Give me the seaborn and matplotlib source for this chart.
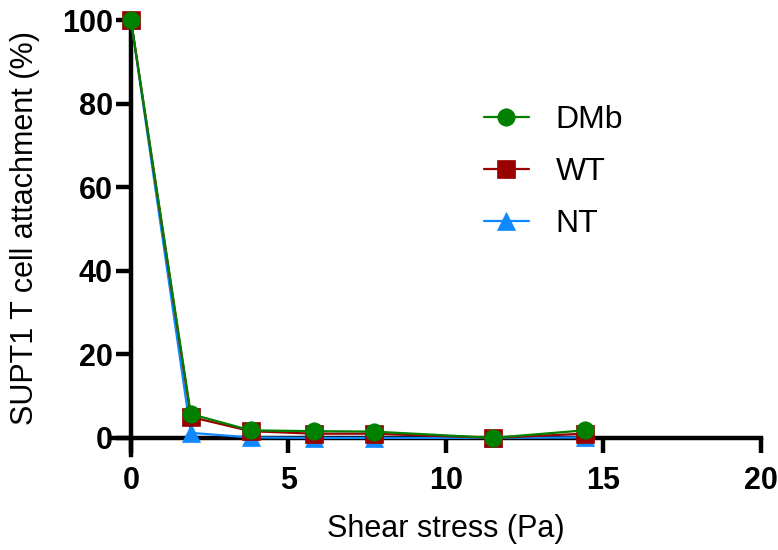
import matplotlib
matplotlib.use("Agg")
import matplotlib.pyplot as plt
import seaborn as sns
import pandas as pd

shear = [0, 1.9, 3.8, 5.8, 7.7, 11.5, 14.4]
dmb = [100, 5.7, 1.8, 1.6, 1.5, 0.0, 1.8]
wt = [100, 5.0, 1.6, 1.0, 1.0, 0.0, 1.0]
nt = [100, 1.2, 0.1, 0.0, 0.0, 0.0, 0.1]
series_names = ["DMb", "WT", "NT"]
colors = {"DMb": "#008000", "WT": "#990000", "NT": "#1088FF"}
markers = {"DMb": "o", "WT": "s", "NT": "^"}
x_ticks = [0, 5, 10, 15, 20]
y_ticks = [0, 20, 40, 60, 80, 100]

sns.set_style("white")
plt.rcParams["font.family"] = ["Liberation Sans", "DejaVu Sans"]
plt.rcParams["text.color"] = "black"
plt.rcParams["axes.labelcolor"] = "black"
plt.rcParams["xtick.color"] = "black"
plt.rcParams["ytick.color"] = "black"

df = pd.DataFrame({
    "shear": shear * 3,
    "value": dmb + wt + nt,
    "series": ["DMb"] * len(shear) + ["WT"] * len(shear) + ["NT"] * len(shear),
})

fig = plt.figure(figsize=(7.78, 5.5), dpi=100)
ax = fig.add_axes([113 / 778, (550 - 455) / 550, 648 / 778, 435 / 550])

msize = {"DMb": 12.5, "WT": 12.5, "NT": 13.5}
for name in ["NT", "WT", "DMb"]:
    sub = df[df["series"] == name]
    sns.lineplot(data=sub, x="shear", y="value", ax=ax, color=colors[name],
                 marker=markers[name], markersize=msize[name],
                 markeredgecolor=colors[name], markeredgewidth=0.5,
                 linewidth=1.6, label=name,
                 clip_on=False, zorder={"NT": 3, "WT": 4, "DMb": 5}[name])

ax.set_xlim(-0.57, 20)
ax.set_ylim(-4.1, 100)
ax.spines["left"].set_position(("data", 0))
ax.spines["bottom"].set_position(("data", 0))
ax.spines["right"].set_visible(False)
ax.spines["top"].set_visible(False)
for s in ["left", "bottom"]:
    ax.spines[s].set_linewidth(3.2)
    ax.spines[s].set_color("black")
    ax.spines[s].set_zorder(2)
ax.set_xticks(x_ticks)
ax.set_yticks(y_ticks)
ax.tick_params(axis="both", direction="out", length=11, width=3.2,
               labelsize=22, bottom=True, left=True)
ax.tick_params(axis="x", pad=9)
ax.tick_params(axis="y", pad=2)
for lab in ax.get_xticklabels() + ax.get_yticklabels():
    lab.set_fontweight("bold")
ax.set_xlabel("Shear stress (Pa)", fontsize=22, va="baseline", ha="center")
ax.set_ylabel("SUPT1 T cell attachment (%)", fontsize=22, va="baseline", ha="center")
ax.xaxis.set_label_coords(446 / 778, 1 - 537 / 550, transform=fig.transFigure)
ax.yaxis.set_label_coords(33 / 778, 1 - 228 / 550, transform=fig.transFigure)

h, l = ax.get_legend_handles_labels()
order = [l.index(n) for n in series_names]
if ax.get_legend():
    ax.get_legend().remove()
fig.legend([h[i] for i in order], [l[i] for i in order], loc="center left",
           bbox_to_anchor=(484 / 778, 1 - 172 / 550), frameon=False, fontsize=23,
           handlelength=1.4, labelspacing=0.68, handletextpad=0.85,
           borderpad=0, borderaxespad=0)

fig.savefig("out.png", dpi=100)
